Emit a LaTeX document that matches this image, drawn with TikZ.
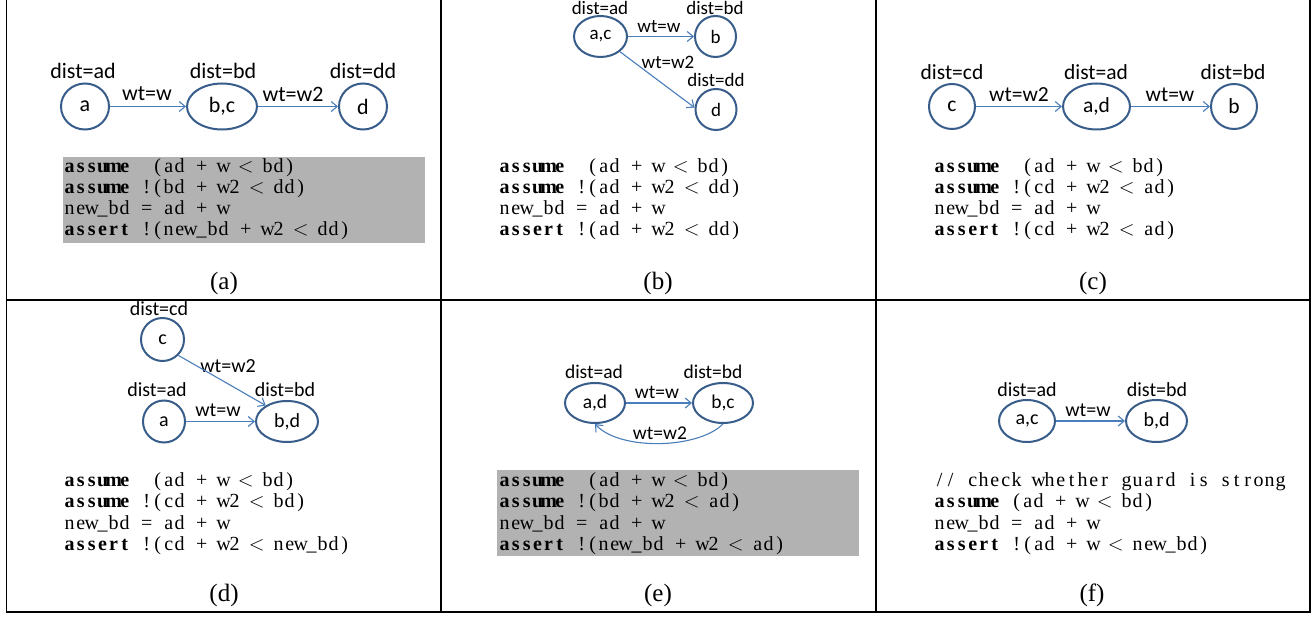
\documentclass[tikz,border=0pt]{standalone}
\usepackage{fontspec}
\setmainfont{Liberation Serif}
\newfontfamily\lab{Carlito}
\usetikzlibrary{shapes.geometric,arrows.meta}
\definecolor{nodeblue}{HTML}{385D8A}
\definecolor{arrblue}{HTML}{4A7EBB}
\definecolor{boxgray}{HTML}{B2B2B2}
\newcommand\fsz[1]{\fontsize{#1}{#1}\selectfont}
\ExplSyntaxOn
\NewDocumentCommand\cc{m}{\str_map_inline:nn{#1}{\makebox[11pt]{\str_case:nnF{##1}{{|}{}{<}{$<$}}{##1}}}}
\ExplSyntaxOff
\newcommand\kw[1]{{\bfseries\cc{#1}}}
\tikzset{
  st/.style={ellipse, draw=nodeblue, line width=2pt, fill=white, inner sep=0pt, font=\lab\fsz{#1}},
  sz/.style 2 args={minimum width=#1, minimum height=#2},
  lb/.style={inner sep=0pt, font=\lab\fsz{#1}},
  arr/.style={draw=arrblue, line width=1.1pt, -{Straight Barb[length=6pt,width=10pt]}},
  code/.style={anchor=base west, inner sep=0pt, font=\fsz{20}},
  captext/.style={inner sep=0pt, font=\fsz{25}},
  frame/.style={draw=black, line width=1.3pt},
  graybox/.style={fill=boxgray}
}
\begin{document}
\begin{tikzpicture}[x=1pt,y=-1pt]
\useasboundingbox (0,0) rectangle (1314,617);
\fill[white] (0,0) rectangle (1314,617);
% frame
\draw[frame] (6.5,0) -- (6.5,612) -- (1310,612) -- (1310,0);
\draw[frame] (6.5,300) -- (1310,300);
\draw[frame] (441,0) -- (441,612);
\draw[frame] (876,0) -- (876,612);

% ---------- panel (a)
\node[st=22, sz={48}{46}] (a1) at (85,106.5) {a};
\node[st=22, sz={70}{46}] (bc1) at (222,106.5) {b,c};
\node[st=22, sz={48}{46}] (d1) at (363,106.5) {d};
\node[lb=22] (a1d) at (83,71) {dist=ad};
\node[lb=22] (bc1d) at (223,71) {dist=bd};
\node[lb=22] (d1d) at (363,71) {dist=dd};
\node[lb=22] (a1w) at (147,94) {wt=w};
\node[lb=22] (bc1w) at (293,94) {wt=w2};
\draw[arr] (a1) -- (bc1);
\draw[arr] (bc1) -- (d1);
\fill[graybox] (63,157) rectangle (425,243);
\node[code] (a1l1) at (64,173) {\kw{assume}\cc{||(ad|+|w|<|bd)}};
\node[code] (a1l2) at (64,194) {\kw{assume}\cc{|!(bd|+|w2|<|dd)}};
\node[code] (a1l3) at (64,215) {\cc{new_bd|=|ad|+|w}};
\node[code] (a1l4) at (64,236) {\kw{assert}\cc{|!(new_bd|+|w2|<|dd)}};
\node[captext] (capa) at (224,283) {(a)};

% ---------- panel (b)
\node[st=19, sz={53}{41}] (ac2) at (600.5,36.5) {a,c};
\node[st=19, sz={41}{41}] (b2) at (715.5,36.5) {b};
\node[st=19, sz={41}{41}] (d2) at (716,109.5) {d};
\node[lb=19] (ac2d) at (600,8) {dist=ad};
\node[lb=19] (b2d) at (715,8) {dist=bd};
\node[lb=19] (d2d) at (716,80) {dist=dd};
\node[lb=19] (b2w) at (659,27) {wt=w};
\node[lb=19] (d2w) at (668,62) {wt=w2};
\draw[arr] (ac2) -- (b2);
\draw[arr] (ac2.south east) -- (d2.175);
\node[code] (b2l1) at (499,173) {\kw{assume}\cc{||(ad|+|w|<|bd)}};
\node[code] (b2l2) at (499,194) {\kw{assume}\cc{|!(ad|+|w2|<|dd)}};
\node[code] (b2l3) at (499,215) {\cc{new_bd|=|ad|+|w}};
\node[code] (b2l4) at (499,236) {\kw{assert}\cc{|!(ad|+|w2|<|dd)}};
\node[captext] (capb) at (658,283) {(b)};

% ---------- panel (c)
\node[st=21.5, sz={46}{45}] (c3) at (952,106.5) {c};
\node[st=21.5, sz={67}{46}] (ad3) at (1096.5,106.5) {a,d};
\node[st=21.5, sz={46}{45}] (b3) at (1234,106.5) {b};
\node[lb=21.5] (c3d) at (952,72) {dist=cd};
\node[lb=21.5] (ad3d) at (1096,72) {dist=ad};
\node[lb=21.5] (b3d) at (1233,72) {dist=bd};
\node[lb=21.5] (c3w) at (1019,95) {wt=w2};
\node[lb=21.5] (ad3w) at (1170,95) {wt=w};
\draw[arr] (c3) -- (ad3);
\draw[arr] (ad3) -- (b3);
\node[code] (c3l1) at (934,173) {\kw{assume}\cc{||(ad|+|w|<|bd)}};
\node[code] (c3l2) at (934,194) {\kw{assume}\cc{|!(cd|+|w2|<|ad)}};
\node[code] (c3l3) at (934,215) {\cc{new_bd|=|ad|+|w}};
\node[code] (c3l4) at (934,236) {\kw{assert}\cc{|!(cd|+|w2|<|ad)}};
\node[captext] (capc) at (1093,283) {(c)};

% ---------- panel (d)
\node[st=20, sz={43}{43}] (c4) at (162.5,339.5) {c};
\node[st=20, sz={42}{42}] (a4) at (164,421.5) {a};
\node[st=20, sz={62}{41}] (bd4) at (287,421.5) {b,d};
\node[lb=20] (c4d) at (159,309) {dist=cd};
\node[lb=20] (a4d) at (157,390) {dist=ad};
\node[lb=20] (bd4d) at (285,390) {dist=bd};
\node[lb=20] (a4w) at (218,410) {wt=w};
\node[lb=20] (c4w) at (228,366) {wt=w2};
\draw[arr] (a4) -- (bd4);
\draw[arr] (c4.south east) -- (bd4.143);
\node[code] (d4l1) at (64,486) {\kw{assume}\cc{||(ad|+|w|<|bd)}};
\node[code] (d4l2) at (64,507) {\kw{assume}\cc{|!(cd|+|w2|<|bd)}};
\node[code] (d4l3) at (64,529) {\cc{new_bd|=|ad|+|w}};
\node[code] (d4l4) at (64,550) {\kw{assert}\cc{|!(cd|+|w2|<|new_bd)}};
\node[captext] (capd) at (224,595) {(d)};

% ---------- panel (e)
\node[st=19.5, sz={60}{40}] (ad5) at (595,403) {a,d};
\node[st=19.5, sz={60}{40}] (bc5) at (723,403) {b,c};
\node[lb=19.5] (ad5d) at (594,372) {dist=ad};
\node[lb=19.5] (bc5d) at (713,372) {dist=bd};
\node[lb=19.5] (ad5w) at (657,392) {wt=w};
\node[lb=19.5] (bc5w) at (660,433) {wt=w2};
\draw[arr] (ad5) -- (bc5);
\draw[arr] (bc5.south) .. controls +(-25,25) and +(25,27) .. (ad5.south);
\fill[graybox] (497,470) rectangle (859,556);
\node[code] (e5l1) at (499,486) {\kw{assume}\cc{||(ad|+|w|<|bd)}};
\node[code] (e5l2) at (499,507) {\kw{assume}\cc{|!(bd|+|w2|<|ad)}};
\node[code] (e5l3) at (499,529) {\cc{new_bd|=|ad|+|w}};
\node[code] (e5l4) at (499,550) {\kw{assert}\cc{|!(new_bd|+|w2|<|ad)}};
\node[captext] (cape) at (658,595) {(e)};

% ---------- panel (f)
\node[st=20, sz={56}{42}] (ac6) at (1027,421) {a,c};
\node[st=20, sz={61}{42}] (bd6) at (1156.5,421) {b,d};
\node[lb=20] (ac6d) at (1027,390) {dist=ad};
\node[lb=20] (bd6d) at (1157,390) {dist=bd};
\node[lb=20] (ac6w) at (1088,410) {wt=w};
\draw[arr] (ac6) -- (bd6);
\node[code] (f6l1) at (934,486) {\cc{//|check|whether|guard|is|strong}};
\node[code] (f6l2) at (934,507) {\kw{assume}\cc{|(ad|+|w|<|bd)}};
\node[code] (f6l3) at (934,529) {\cc{new_bd|=|ad|+|w}};
\node[code] (f6l4) at (934,550) {\kw{assert}\cc{|!(ad|+|w|<|new_bd)}};
\node[captext] (capf) at (1092,595) {(f)};
\end{tikzpicture}
\end{document}
